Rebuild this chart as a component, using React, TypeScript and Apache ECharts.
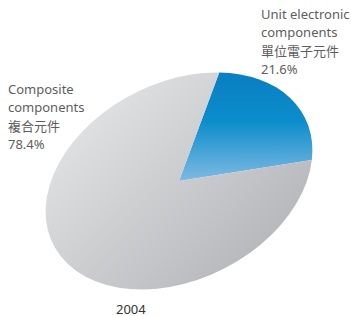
import React, { useEffect, useRef } from 'react';
import * as echarts from 'echarts';

// ---- data ----
const categoriesEn: string[][] = [
  ['Unit electronic', 'components'],
  ['Composite', 'components'],
];
const categoriesZh: string[] = ['單位電子元件', '複合元件'];
const values: number[] = [21.6, 78.4];
const yearLabel = '2004';

// ---- layout ----
const W = 351;
const H = 316;
const PIE_BOX = 240;
const PIE_R = 98.5;
const CX = 179;
const CY = 181;
const FONT = '"Noto Sans", "Noto Sans CJK TC", sans-serif';

export default function App() {
  const pieRef = useRef<HTMLDivElement>(null);
  const textRef = useRef<HTMLDivElement>(null);

  useEffect(() => {
    const pie = echarts.init(pieRef.current!, null, { renderer: 'svg' });
    const text = echarts.init(textRef.current!, null, { renderer: 'svg' });
    const c = PIE_BOX / 2;

    const blue = new echarts.graphic.LinearGradient(
      c + 57.6, c - 79.8, c, c,
      [
        { offset: 0, color: '#0a7ec2' },
        { offset: 0.45, color: '#0b8dcc' },
        { offset: 1, color: '#80bae2' },
      ],
      true
    );
    const gray = new echarts.graphic.LinearGradient(
      c - 42, c - 89, c + 42, c + 89,
      [
        { offset: 0, color: '#dedfe1' },
        { offset: 1, color: '#b8b9bc' },
      ],
      true
    );
    const colors = [blue, gray];

    pie.setOption({
      animation: false,
      series: [
        {
          type: 'pie',
          center: ['50%', '50%'],
          radius: [0, PIE_R],
          startAngle: 53,
          clockwise: true,
          silent: true,
          label: { show: false },
          labelLine: { show: false },
          emphasis: { disabled: true },
          itemStyle: { borderWidth: 0 },
          data: values.map((v, i) => ({
            value: v,
            name: categoriesEn[i].join(' '),
            itemStyle: { color: colors[i] },
          })),
        },
      ],
    });

    const labelPos = [
      { x: 261, y: 5 },
      { x: 8, y: 80 },
    ];
    text.setOption({
      animation: false,
      graphic: [
        ...values.map((v, i) => ({
          type: 'text',
          left: labelPos[i].x,
          top: labelPos[i].y,
          silent: true,
          style: {
            text: `${categoriesEn[i].join('\n')}\n${categoriesZh[i]}\n${v.toFixed(1)}%`,
            font: `13px ${FONT}`,
            lineHeight: 18.3,
            fill: '#5e5e5e',
          },
        })),
        {
          type: 'text',
          left: 116,
          top: 302,
          silent: true,
          style: {
            text: yearLabel,
            font: `13px ${FONT}`,
            lineHeight: 13,
            fill: '#333333',
          },
        },
      ],
    });

    return () => {
      pie.dispose();
      text.dispose();
    };
  }, []);

  return (
    <div style={{ position: 'fixed', left: 0, top: 0, width: W, height: H, background: '#ffffff', overflow: 'hidden' }}>
      <div
        ref={pieRef}
        style={{
          position: 'absolute',
          left: CX - PIE_BOX / 2,
          top: CY - PIE_BOX / 2,
          width: PIE_BOX,
          height: PIE_BOX,
          transform: 'rotate(-26.8deg) scale(1.431, 1)',
          transformOrigin: '50% 50%',
        }}
      />
      <div
        ref={textRef}
        style={{ position: 'absolute', left: 0, top: 0, width: W, height: H, pointerEvents: 'none' }}
      />
    </div>
  );
}
